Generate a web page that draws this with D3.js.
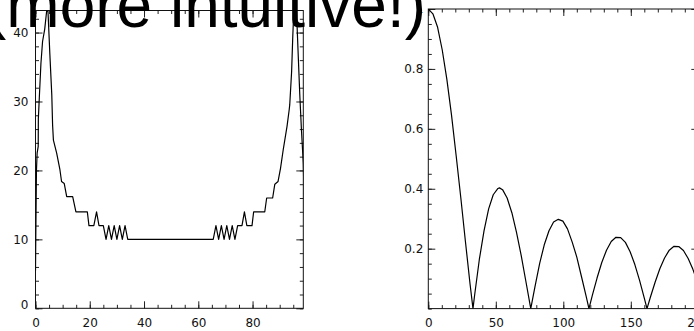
<!DOCTYPE html>
<html><head><meta charset="utf-8">
<script src="https://cdn.jsdelivr.net/npm/d3@7"></script>
<style>html,body{margin:0;padding:0;background:#fff;overflow:hidden}</style>
</head><body>
<svg id="c" width="694" height="331"></svg>
<script>
const titleText = "(more intuitive!)";

// left panel: stepped, nearly symmetric profile
const leftX = [0,0.1,0.2,0.35,0.6,1.0,1.05,1.4,2.0,2.6,3.4,4.1,4.6,5.3,6.0,6.3,6.6,7.8,9.0,9.6,10.6,11.5,13.7,14.9,19.1,19.7,21.5,22.5,23.4,25,26,27,28,29,30,31,32,33,34,65.5,66.5,67.5,68.5,69.5,70.5,71.5,72.5,73.5,74.5,76.1,77,77.9,79.8,80.4,84.5,85.2,87.4,88.2,89.4,90.3,91.3,92.7,93.5,93.7,94.4,94.8,95.0,95.6,96.2,96.8,97.4,98.0,98.7,99.2,99.5];
const leftY = [5.5,10,14,20,22.5,23.5,27.5,30.5,35.5,38.7,40.5,43.1,43.1,36.8,31,26.6,24.4,22.5,20.1,18.4,18.1,16.2,16.2,14,14,12,12,14,12,12,10,12,10,12,10,12,10,12,10,10,12,10,12,10,12,10,12,10,12,12,14,12,12,14,14,16,16,18,18.4,20.3,23,26.4,28.8,29.5,34.4,39.2,41.2,43.1,43.1,37,31,26,21,12,5];
const leftXTicks = [0,20,40,60,80];
const leftYTicks = [0,10,20,30,40];

// right panel: |oscillating| decaying profile
const rightX = [0,3.4,6.9,10.3,13.75,17.2,20.6,24.1,27.5,30.9,33.1,34.4,37.8,41.3,44.7,48.1,51.6,52.7,55,58.4,61.9,65.3,68.8,72.2,75.9,79.1,82.5,85.9,89.4,92.8,96.3,99.7,103.1,106.6,110,113.4,116.9,119,121.5,125,128.5,132,135.5,139,142.5,146,149.5,153,156.5,160,162,164.5,168,171.5,175,178.5,182,185.5,189,192.5,196,199.5,203,205.3];
const rightY = [1.0,0.984,0.939,0.864,0.765,0.646,0.512,0.369,0.224,0.083,0,0.048,0.164,0.260,0.333,0.380,0.401,0.403,0.397,0.369,0.320,0.255,0.178,0.093,0,0.075,0.151,0.213,0.260,0.289,0.298,0.292,0.266,0.222,0.172,0.108,0.042,0,0.044,0.102,0.154,0.195,0.224,0.238,0.237,0.221,0.190,0.147,0.094,0.035,0,0.038,0.088,0.133,0.169,0.195,0.208,0.207,0.194,0.167,0.131,0.086,0.035,0];
const rightXTicks = [0,50,100,150,200];
const rightYTicks = [0.2,0.4,0.6,0.8,1.0];

const svg = d3.select("#c");
const FONT = "'DejaVu Sans', sans-serif";

function panel(o) {
  const x = d3.scaleLinear().domain(o.xd).range([o.l, o.r]);
  const y = d3.scaleLinear().domain(o.yd).range([o.b, o.t]);
  const g = svg.append("g");
  const cid = "clip" + o.id;
  svg.append("defs").append("clipPath").attr("id", cid)
    .append("rect").attr("x", o.l).attr("y", o.t).attr("width", o.r - o.l).attr("height", o.b - o.t);

  function axes(axisFn, scale, ticks, size, labels, pad, tx, ty) {
    const a = axisFn(scale).tickValues(ticks).tickSize(size).tickPadding(pad);
    if (!labels) a.tickFormat("");
    else a.tickFormat(d => o.fmt(d));
    const ag = g.append("g").attr("transform", `translate(${tx},${ty})`).call(a);
    ag.select(".domain").remove();
    ag.selectAll("line").attr("stroke", "#222").attr("stroke-width", 1);
    ag.selectAll("text").attr("font-family", FONT).attr("font-size", 12).attr("fill", "#111");
    return ag;
  }
  const xMinor = d3.range(o.xd[0], o.xd[1] + 1e-9, o.xMinor);
  const yMinor = d3.range(o.yd[0], o.yd[1] + 1e-9, o.yMinor);
  // bottom
  const bx = axes(d3.axisBottom, x, o.xTicks, -7, true, 10, 0, o.b);
  axes(d3.axisBottom, x, xMinor, -3.5, false, 0, 0, o.b);
  // top
  axes(d3.axisTop, x, o.xTicks, -7, false, 0, 0, o.t);
  axes(d3.axisTop, x, xMinor, -3.5, false, 0, 0, o.t);
  // left
  const ly = axes(d3.axisLeft, y, o.yTicks, -7, true, o.yPad, o.l, 0);
  axes(d3.axisLeft, y, yMinor, -3.5, false, 0, o.l, 0);
  // right
  axes(d3.axisRight, y, o.yTicks, -7, false, 0, o.r, 0);
  axes(d3.axisRight, y, yMinor, -3.5, false, 0, o.r, 0);
  ly.selectAll(".tick").filter(d => d === 0).select("text").attr("y", -4);

  g.append("rect").attr("x", o.l).attr("y", o.t).attr("width", o.r - o.l).attr("height", o.b - o.t)
    .attr("fill", "none").attr("stroke", "#111").attr("stroke-width", 1);

  const line = d3.line().x((d, i) => x(o.xs[i])).y(d => y(d));
  g.append("path").attr("clip-path", `url(#${cid})`).datum(o.ys)
    .attr("d", line).attr("fill", "none").attr("stroke", "#000").attr("stroke-width", 1.2)
    .attr("stroke-linejoin", "round");
}

panel({id: "L", l: 35.5, r: 303.3, t: 10.5, b: 308.3, xd: [0, 98.7], yd: [0, 43.2],
  xTicks: leftXTicks, yTicks: leftYTicks, xMinor: 5, yMinor: 2, yPad: 7,
  xs: leftX, ys: leftY, fmt: d => String(d)});

panel({id: "R", l: 428.3, r: 698.3, t: 9, b: 308.6, xd: [0, 200], yd: [0, 1],
  xTicks: rightXTicks, yTicks: rightYTicks, xMinor: 10, yMinor: 0.05, yPad: 5,
  xs: rightX, ys: rightY, fmt: d => (d >= 1 || d === 0 || d % 1 === 0) ? d3.format(".0f")(d) : d3.format(".1f")(d)});

svg.append("text").attr("x", -15).attr("y", 27)
  .attr("font-family", "'Liberation Sans', Arial, sans-serif").attr("font-size", 64)
  .attr("fill", "#000").text(titleText);
</script>
</body></html>
